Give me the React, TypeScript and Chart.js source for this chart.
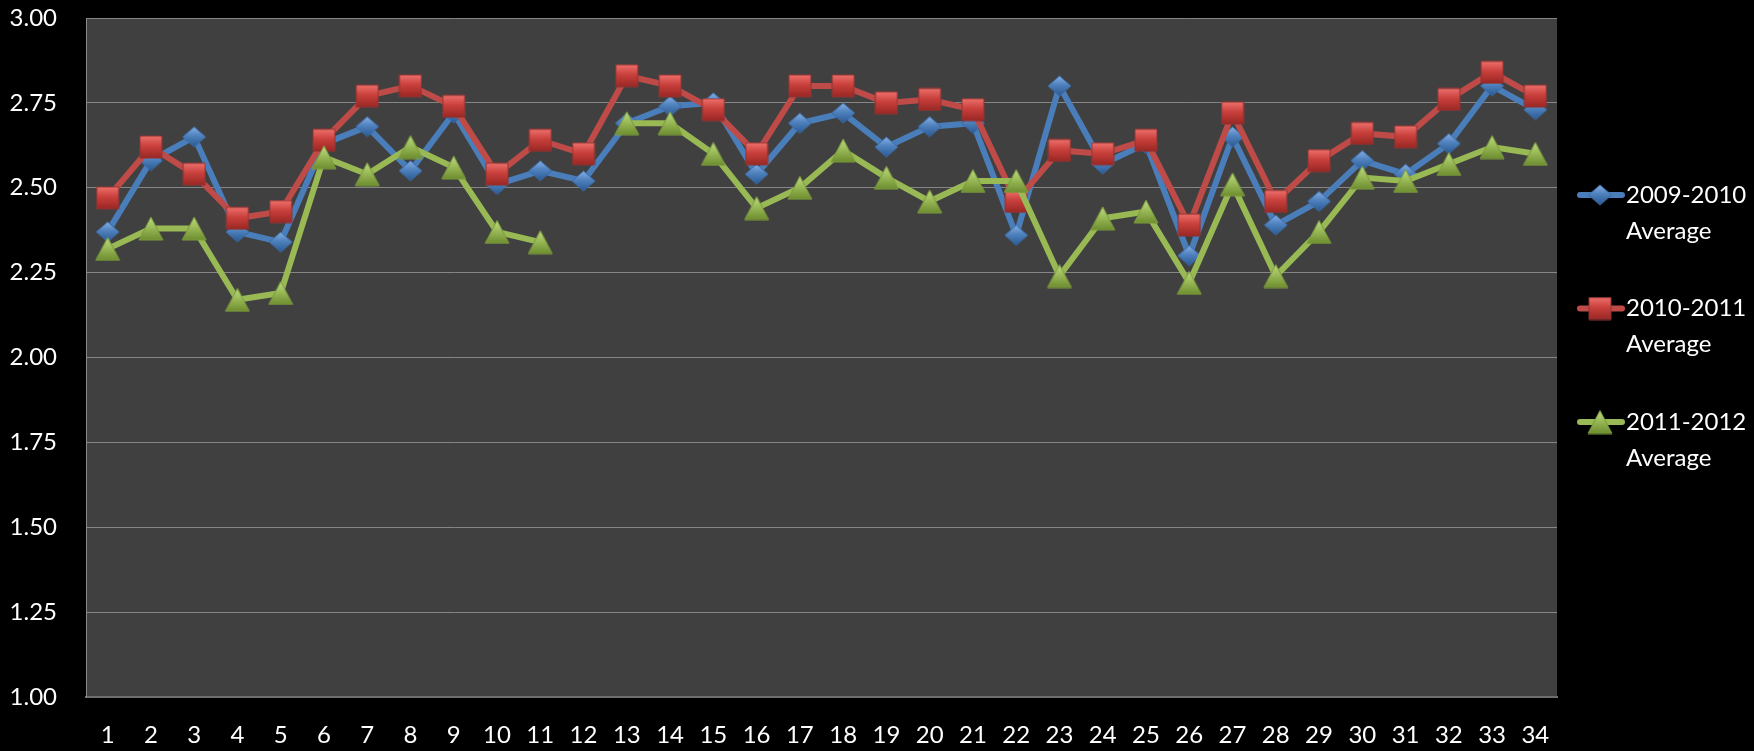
import { useEffect, useRef } from 'react';
import { Chart, registerables } from 'chart.js';

Chart.register(...registerables);

const categories = ['1','2','3','4','5','6','7','8','9','10','11','12','13','14','15','16','17','18','19','20','21','22','23','24','25','26','27','28','29','30','31','32','33','34'];

const seriesNames = ['2009-2010 Average', '2010-2011 Average', '2011-2012 Average'];

const avg0910 = [2.37, 2.58, 2.65, 2.37, 2.34, 2.63, 2.68, 2.55, 2.72, 2.51, 2.55, 2.52, 2.69, 2.74, 2.75, 2.54, 2.69, 2.72, 2.62, 2.68, 2.69, 2.36, 2.80, 2.57, 2.63, 2.30, 2.65, 2.39, 2.46, 2.58, 2.54, 2.63, 2.80, 2.73];

const avg1011 = [2.47, 2.62, 2.54, 2.41, 2.43, 2.64, 2.77, 2.80, 2.74, 2.54, 2.64, 2.60, 2.83, 2.80, 2.73, 2.60, 2.80, 2.80, 2.75, 2.76, 2.73, 2.46, 2.61, 2.60, 2.64, 2.39, 2.72, 2.46, 2.58, 2.66, 2.65, 2.76, 2.84, 2.77];

const avg1112 = [2.32, 2.38, 2.38, 2.17, 2.19, 2.59, 2.54, 2.62, 2.56, 2.37, 2.34, null, 2.69, 2.69, 2.60, 2.44, 2.50, 2.61, 2.53, 2.46, 2.52, 2.52, 2.24, 2.41, 2.43, 2.22, 2.51, 2.24, 2.37, 2.53, 2.52, 2.57, 2.62, 2.60];

const yTicks = [1.0, 1.25, 1.5, 1.75, 2.0, 2.25, 2.5, 2.75, 3.0];

const FONT = 'Lato, "Open Sans", "Noto Sans", sans-serif';

function makeMarker(shape: string, w: number, h: number, light: string, base: string, dark: string, edge: string) {
  const c = document.createElement('canvas');
  c.width = w + 2;
  c.height = h + 2;
  const ctx = c.getContext('2d')!;
  const x0 = 1, y0 = 1;
  ctx.beginPath();
  if (shape === 'diamond') {
    ctx.moveTo(x0 + w / 2, y0);
    ctx.lineTo(x0 + w, y0 + h / 2);
    ctx.lineTo(x0 + w / 2, y0 + h);
    ctx.lineTo(x0, y0 + h / 2);
  } else if (shape === 'square') {
    ctx.rect(x0, y0, w, h);
  } else {
    ctx.moveTo(x0 + w / 2, y0);
    ctx.lineTo(x0 + w, y0 + h);
    ctx.lineTo(x0, y0 + h);
  }
  ctx.closePath();
  const g = ctx.createLinearGradient(0, y0, 0, y0 + h);
  g.addColorStop(0, light);
  g.addColorStop(0.45, base);
  g.addColorStop(1, dark);
  ctx.fillStyle = g;
  ctx.fill();
  ctx.lineWidth = 1;
  ctx.strokeStyle = edge;
  ctx.stroke();
  return c;
}

export default function App() {
  const ref = useRef<HTMLCanvasElement | null>(null);

  useEffect(() => {
    const canvas = ref.current;
    if (!canvas) return;

    const blueM = makeMarker('diamond', 23, 20, '#86B0E6', '#4F81BD', '#2A5A93', '#3A6AA3');
    const redM = makeMarker('square', 22, 22, '#EE706C', '#C9403C', '#9A2724', '#8E3532');
    const greenM = makeMarker('triangle', 24, 23, '#BFDA82', '#9BBB59', '#6E8D2F', '#7A9A3C');

    const lineColors = ['#4A7EBB', '#BE4B48', '#98B954'];
    const markers = [blueM, redM, greenM];

    const bgPlugin = {
      id: 'bgPlugin',
      beforeDraw(chart: any) {
        const { ctx, chartArea } = chart;
        ctx.save();
        ctx.fillStyle = '#000000';
        ctx.fillRect(0, 0, chart.width, chart.height);
        ctx.fillStyle = '#404040';
        ctx.fillRect(chartArea.left, chartArea.top, chartArea.right - chartArea.left, chartArea.bottom - chartArea.top);
        ctx.restore();
      },
    };

    const legendPlugin = {
      id: 'legendPlugin',
      afterDraw(chart: any) {
        const { ctx, chartArea } = chart;
        const x = chartArea.right + 21;
        const ys = [195, 308.5, 422];
        ctx.save();
        seriesNames.forEach((name, i) => {
          const y = ys[i];
          ctx.strokeStyle = lineColors[i];
          ctx.lineWidth = 6;
          ctx.lineCap = 'round';
          ctx.beginPath();
          ctx.moveTo(x + 2, y);
          ctx.lineTo(x + 44, y);
          ctx.stroke();
          const m = markers[i];
          ctx.drawImage(m, x + 22 - m.width / 2, y - m.height / 2);
          ctx.fillStyle = '#FFFFFF';
          ctx.font = '24px ' + FONT;
          ctx.textBaseline = 'middle';
          ctx.textAlign = 'left';
          const parts = name.split(' ');
          ctx.fillText(parts[0], x + 48, y);
          ctx.fillText(parts[1], x + 48, y + 36);
        });
        ctx.restore();
      },
    };

    const mk = (i: number, data: (number | null)[], order: number) => ({
      label: seriesNames[i],
      data,
      borderColor: lineColors[i],
      backgroundColor: lineColors[i],
      borderWidth: 6,
      pointStyle: markers[i],
      pointRadius: 12,
      pointHoverRadius: 12,
      tension: 0,
      spanGaps: false,
      order,
    });

    const chart = new Chart(canvas, {
      type: 'line',
      data: {
        labels: categories,
        datasets: [mk(0, avg0910, 3), mk(1, avg1011, 2), mk(2, avg1112, 1)],
      },
      options: {
        animation: false,
        responsive: false,
        layout: { padding: { top: 15, right: 197, left: 0, bottom: 0 } },
        plugins: {
          legend: { display: false },
          tooltip: { enabled: false },
        },
        scales: {
          x: {
            type: 'category',
            offset: true,
            grid: { display: false, drawTicks: false },
            border: { display: true, color: '#6E6E6E', width: 2 },
            ticks: {
              color: '#FFFFFF',
              font: { family: FONT, size: 24 },
              padding: 24,
              maxRotation: 0,
              autoSkip: false,
            },
            afterFit(scale: any) {
              scale.height = 54;
              scale.paddingLeft = 0;
              scale.paddingRight = 0;
            },
          },
          y: {
            min: 1,
            max: 3,
            afterBuildTicks(scale: any) {
              scale.ticks = yTicks.map((v) => ({ value: v }));
            },
            grid: { color: '#868686', lineWidth: 1, drawTicks: false },
            border: { display: true, color: '#8A8A8A', width: 1 },
            ticks: {
              color: '#FFFFFF',
              font: { family: FONT, size: 24 },
              padding: 29,
              callback: (v: any) => Number(v).toFixed(2),
            },
            afterFit(scale: any) {
              scale.width = 86;
              scale.paddingTop = 0;
              scale.paddingBottom = 0;
            },
          },
        },
      },
      plugins: [bgPlugin, legendPlugin],
    });

    return () => {
      chart.destroy();
    };
  }, []);

  return (
    <div style={{ position: 'fixed', left: 0, top: 0, width: 1754, height: 751, background: '#000' }}>
      <canvas ref={ref} width={1754} height={751} style={{ display: 'block', width: 1754, height: 751 }} />
    </div>
  );
}
